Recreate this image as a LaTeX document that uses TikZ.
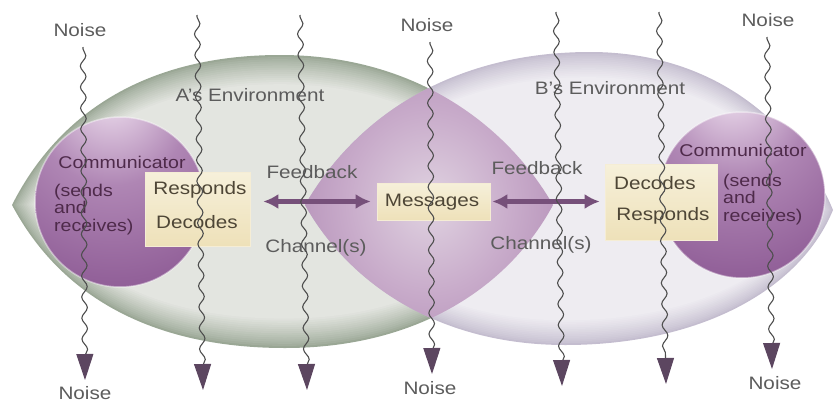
\documentclass[tikz,border=0pt]{standalone}
\usepackage{fontspec}
\setmainfont{Liberation Sans}
\usepackage{graphicx}
\usetikzlibrary{arrows.meta,decorations.pathmorphing}

% palette
\definecolor{labelgray}{HTML}{5C5C5C}
\definecolor{boxtext}{HTML}{4E4636}
\definecolor{commtext}{HTML}{4E2A4A}
\definecolor{wavegray}{HTML}{4E4E4E}
\definecolor{headpurple}{HTML}{5C4660}
\definecolor{fbpurple}{HTML}{76507A}
\definecolor{envAin}{HTML}{E3E5E0}
\definecolor{envAout}{HTML}{9AA795}
\definecolor{envBin}{HTML}{EEECF1}
\definecolor{envBout}{HTML}{C4BDCF}
\definecolor{midin}{HTML}{E0D3E1}
\definecolor{midmid}{HTML}{C8ABCA}
\definecolor{midout}{HTML}{AE88B2}
\definecolor{sphhi}{HTML}{F5EEF5}
\definecolor{sphlight}{HTML}{D9C1DB}
\definecolor{sphmid}{HTML}{AF86B4}
\definecolor{sphdark}{HTML}{93629A}
\definecolor{sphdeep}{HTML}{804D87}
\definecolor{sphlow}{HTML}{9C76A2}
\definecolor{sphrim}{HTML}{BFA1C3}
\definecolor{boxtop}{HTML}{F6F0DA}
\definecolor{boxbot}{HTML}{EEE1B9}

% shadings
\pgfdeclareradialshading{midshade}{\pgfpointorigin}{color(0bp)=(midin); color(16bp)=(midmid); color(32bp)=(midout); color(70bp)=(midout)}
\pgfdeclareradialshading{sphereshade}{\pgfpoint{-3bp}{35bp}}{color(0bp)=(sphhi); color(9bp)=(sphlight); color(22bp)=(sphmid); color(42bp)=(sphdark); color(58bp)=(sphdeep); color(74bp)=(sphlow); color(85bp)=(sphrim); color(95bp)=(sphrim)}

% horizontally widened text
\newcommand\sx[1]{\scalebox{1.15}[1]{#1}}

\begin{document}
\begin{tikzpicture}[x=1pt,y=-1pt,
  lbl/.style={text=labelgray, font=\fontsize{18}{20}\selectfont, inner sep=0pt},
  boxlbl/.style={text=boxtext, font=\fontsize{18}{20}\selectfont, inner sep=0pt},
  commlbl/.style={text=commtext, font=\fontsize{17}{17}\selectfont, inner sep=0pt},
  actbox/.style={top color=boxtop, bottom color=boxbot, draw=boxbot!60!white, line width=0.6pt},
  fb/.style={draw=fbpurple, line width=5pt, {Latex[length=15pt,width=15pt]}-{Latex[length=15pt,width=15pt]}},
  sphere/.style={shading=sphereshade, draw=white, draw opacity=0.45, line width=1.5pt},
  noise/.style={draw=wavegray, line width=1.1pt, decorate,
    decoration={snake, amplitude=2.8pt, segment length=21pt, pre length=2pt, post length=22pt},
    -{Triangle[length=26pt,width=17pt,color=headpurple]}}
]
\useasboundingbox (0,0) rectangle (838,407);

% the two environments: soft darker rim, lighter interior
\def\envA{(12,205) .. controls (60,110) and (150,55) .. (280,55) .. controls (420,55) and (510,130) .. (553,205) .. controls (510,285) and (420,348) .. (285,348) .. controls (150,348) and (60,295) .. (12,205) -- cycle}
\def\envB{(305,205) .. controls (360,110) and (460,52) .. (590,52) .. controls (720,52) and (800,130) .. (833,210) .. controls (800,290) and (700,345) .. (565,345) .. controls (440,345) and (350,285) .. (305,205) -- cycle}
\foreach \k in {0,...,14}{
  \pgfmathsetmacro\xs{1-0.085*\k/14}
  \pgfmathsetmacro\ys{1-0.2*\k/14}
  \pgfmathtruncatemacro\p{100*(\k/14)^0.8}
  \fill[envAin!\p!envAout, shift={(282,201)}, xscale=\xs, yscale=\ys, shift={(-282,-201)}] \envA;
}
\foreach \k in {0,...,14}{
  \pgfmathsetmacro\xs{1-0.07*\k/14}
  \pgfmathsetmacro\ys{1-0.17*\k/14}
  \pgfmathtruncatemacro\p{100*(\k/14)^0.8}
  \fill[envBin!\p!envBout, shift={(569,200)}, xscale=\xs, yscale=\ys, shift={(-569,-200)}] \envB;
}

% shared region of both environments
\begin{scope}
  \clip \envA;
  \clip \envB;
  \shade[shading=midshade] (300,60) rectangle (560,345);
\end{scope}

% communicators
\shadedraw[sphere] (120,202) circle (85);
\shadedraw[sphere] (742,195) circle (83);

% labels
\node[lbl] (noiseTA) at (80,30) {\sx{Noise}};
\node[lbl] (noiseTB) at (427,25) {\sx{Noise}};
\node[lbl] (noiseTC) at (768,20) {\sx{Noise}};
\node[lbl] (noiseBA) at (85,393) {\sx{Noise}};
\node[lbl] (noiseBB) at (430,388) {\sx{Noise}};
\node[lbl] (noiseBC) at (775,383) {\sx{Noise}};

\node[lbl] (envAlbl) at (250,95) {\sx{A's Environment}};
\node[lbl] (envBlbl) at (610,88) {\sx{B's Environment}};

\node[commlbl] (commA) at (122,162) {\sx{Communicator}};
\node[commlbl] (commB) at (743,150) {\sx{Communicator}};
\node[commlbl, anchor=west] (sendA) at (54,210) {\sx{\begin{tabular}{@{}l@{}}(sends\\and\\receives)\end{tabular}}};
\node[commlbl, anchor=west] (sendB) at (723,200) {\sx{\begin{tabular}{@{}l@{}}(sends\\and\\receives)\end{tabular}}};

% activity boxes
\node[actbox, minimum width=105pt, minimum height=74pt, inner sep=0pt] (lbox) at (197.5,209) {};
\node[actbox, minimum width=112pt, minimum height=76pt, inner sep=0pt] (rbox) at (661,202) {};
\node[actbox, minimum width=113pt, minimum height=37pt, inner sep=0pt] (msg) at (433.5,201.5) {};

\node[boxlbl] (respA) at (200,190) {\sx{Responds}};
\node[boxlbl] (decA) at (197,222) {\sx{Decodes}};
\node[boxlbl] (decB) at (655,183) {\sx{Decodes}};
\node[boxlbl] (respB) at (663,216) {\sx{Responds}};
\node[boxlbl] (msgtxt) at (432,202) {\sx{Messages}};

\node[lbl] (fbA) at (312,172) {\sx{Feedback}};
\node[lbl] (chA) at (316,248) {\sx{Channel(s)}};
\node[lbl] (fbB) at (537,168) {\sx{Feedback}};
\node[lbl] (chB) at (541,245) {\sx{Channel(s)}};

% feedback arrows
\draw[fb, shorten <=13pt, shorten >=6pt] (lbox.east |- msg.west) -- (msg.west);
\draw[fb, shorten <=2pt, shorten >=5pt] (msg.east) -- (rbox.west |- msg.east);

% noise and channel lines
\coordinate (w1a) at (83,47);   \coordinate (w1b) at (85,380);
\coordinate (w2a) at (197,15);  \coordinate (w2b) at (203,390);
\coordinate (w3a) at (300,15);  \coordinate (w3b) at (307,390);
\coordinate (w4a) at (430,42);  \coordinate (w4b) at (432,374);
\coordinate (w5a) at (556,12);  \coordinate (w5b) at (562,386);
\coordinate (w6a) at (659,12);  \coordinate (w6b) at (666,384);
\coordinate (w7a) at (767,37);  \coordinate (w7b) at (772,369);
\foreach \i in {1,...,7}{
  \draw[noise] (w\i a) -- (w\i b);
}
\end{tikzpicture}
\end{document}
